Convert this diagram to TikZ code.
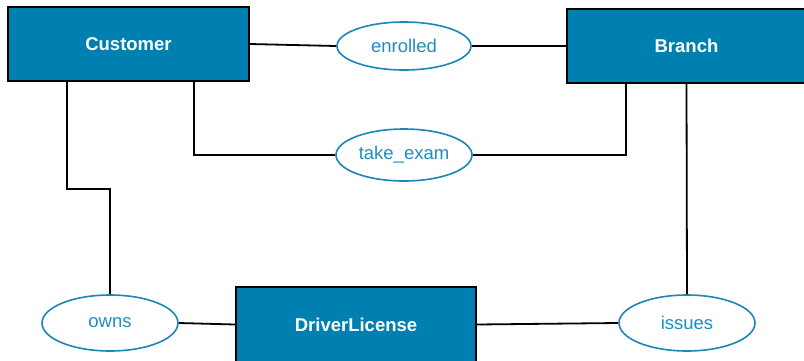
\documentclass[tikz,border=0pt]{standalone}
\usepackage{fontspec}
\setmainfont{Liberation Sans}
\usepackage{xcolor}
\usepackage{tikz}
\usetikzlibrary{positioning,calc,shapes.geometric}
\definecolor{EntBlue}{HTML}{0080B0}
\definecolor{RelLine}{HTML}{1A87B6}
\definecolor{RelText}{HTML}{1E8DC4}

\begin{document}
\begin{tikzpicture}[x=1pt,y=-1pt,
  every node/.style={font=\fontsize{18.5}{22}\selectfont,align=center},
  entity/.style={draw=black,line width=2pt,fill=EntBlue,text=white,font=\fontsize{18.5}{22}\selectfont\bfseries,minimum width=241pt,minimum height=74pt},
  rel/.style={ellipse,draw=RelLine,line width=1.6pt,fill=white,text=RelText,minimum width=134pt,minimum height=46pt,inner sep=0pt},
  link/.style={line width=1.8pt,black}
]
\useasboundingbox (0,0) rectangle (804,360);
\node[entity] (customer) at (128.5,44) {Customer};
\node[entity,minimum width=239pt] (branch) at (686.5,46) {Branch};
\node[entity,minimum width=240pt,minimum height=75pt] (license) at (356,324.5) {DriverLicense};
\node[rel,minimum height=48pt] (enrolled) at (404,46) {enrolled};
\node[rel,minimum width=136pt,minimum height=52pt] (exam) at (404,155) {take\_exam};
\node[rel,minimum width=136pt,minimum height=56pt] (owns) at (110,323) {owns};
\node[rel,minimum width=136pt,minimum height=56pt] (issues) at (687,323) {issues};
\draw[link] (customer.east) -- (enrolled.west); \draw[link] (enrolled.east) -- (branch.west);
\draw[link] ([xshift=65.5pt]customer.south) |- (exam.west);
\draw[link] (exam.east) -| ([xshift=-60.5pt]branch.south);
\draw[link] ([xshift=-61.5pt]customer.south) -- ++(0,107) -| (owns.north);
\draw[link] (owns.east) -- (license.west); \draw[link] (license.east) -- (issues.west);
\draw[link] (branch.south) -- (issues.north);
\end{tikzpicture}
\end{document}
